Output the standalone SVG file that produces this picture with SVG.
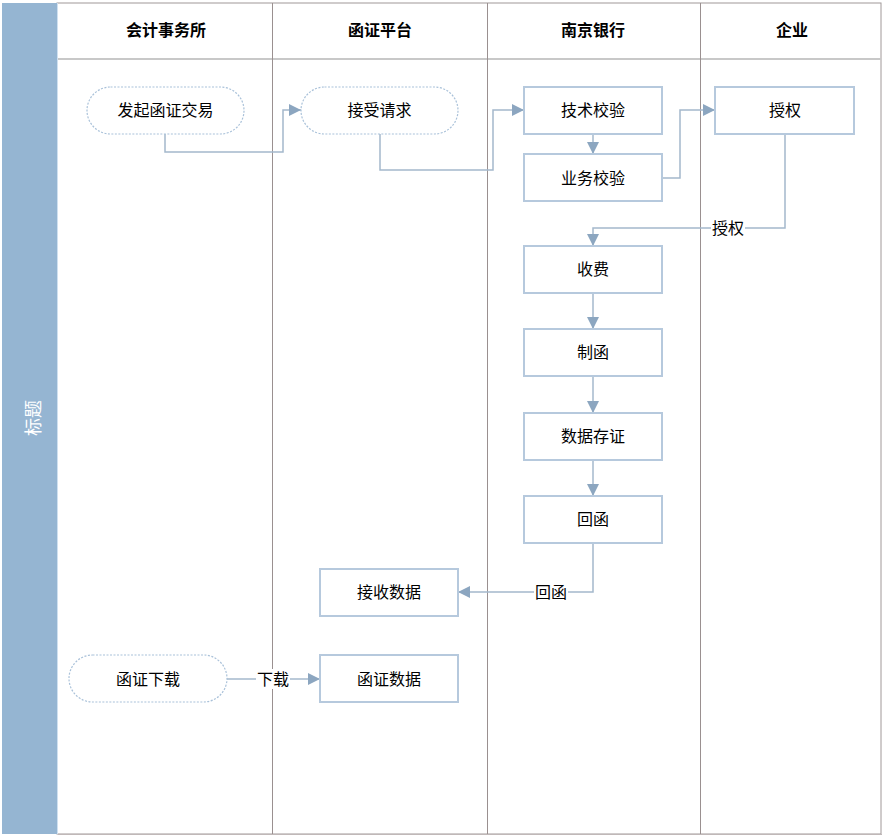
<svg xmlns="http://www.w3.org/2000/svg" width="884" height="837" viewBox="0 0 884 837">
<style>
.lane{stroke:#9a9090;stroke-width:1;fill:none}
.node rect.box{fill:#fff;stroke:#b6c9dd;stroke-width:2}
.node rect.term{fill:#fff;stroke:#a9c1d9;stroke-width:1.2;stroke-dasharray:2 1.5}
text{font-family:"Noto Sans CJK SC","Liberation Sans",sans-serif;font-size:16px;fill:#000;text-anchor:middle;dominant-baseline:central}
.hdr{font-weight:bold}
.conn path{fill:none;stroke:#a4b8cc;stroke-width:1.5}
.lbl{fill:#fff}
</style>
<defs>
<marker id="arr" viewBox="0 0 10 10" refX="10" refY="5" markerWidth="12" markerHeight="12" markerUnits="userSpaceOnUse" orient="auto">
<path d="M0,0 L10,5 L0,10 z" fill="#8ca6c0"/>
</marker>
</defs>
<rect x="0" y="0" width="884" height="837" fill="#fff"/>
<g id="pool">
<rect x="57" y="3" width="824" height="831" fill="#fff" stroke="#a09898" stroke-width="1"/>
<line x1="58" y1="834.5" x2="882" y2="834.5" stroke="#c0b8b8" stroke-width="1"/>
<rect x="2" y="3" width="55" height="831" fill="#95b5d2"/>
<line x1="57.5" y1="3" x2="57.5" y2="834" stroke="#cfe0f0" stroke-width="1"/>
<text x="32" y="418" transform="rotate(-90 32 418)" style="fill:#fff;font-size:18px">标题</text>
<line x1="58" y1="59" x2="881" y2="59" stroke="#c8c8c8" stroke-width="2"/>
<line class="lane" x1="272.5" y1="3" x2="272.5" y2="834"/>
<line class="lane" x1="487.5" y1="3" x2="487.5" y2="834"/>
<line class="lane" x1="700.5" y1="3" x2="700.5" y2="834"/>
<text class="hdr" x="166" y="29">会计事务所</text>
<text class="hdr" x="380" y="29">函证平台</text>
<text class="hdr" x="593" y="29">南京银行</text>
<text class="hdr" x="792" y="29">企业</text>
</g>
<g class="conn" id="connectors">
<path d="M165,134 V152 H283 V110 H301" marker-end="url(#arr)"/>
<path d="M380,134 V170 H493 V110 H524" marker-end="url(#arr)"/>
<path d="M593,134 V154" marker-end="url(#arr)"/>
<path d="M662,178 H680 V110 H715" marker-end="url(#arr)"/>
<path d="M785,134 V228 H593 V246" marker-end="url(#arr)"/>
<path d="M593,293 V329" marker-end="url(#arr)"/>
<path d="M593,376 V413" marker-end="url(#arr)"/>
<path d="M593,460 V496" marker-end="url(#arr)"/>
<path d="M593,543 V592 H458" marker-end="url(#arr)"/>
<path d="M227,679 H320" marker-end="url(#arr)"/>
<rect class="lbl" x="711" y="218" width="34" height="20"/>
<text x="728" y="227">授权</text>
<rect class="lbl" x="534" y="582" width="34" height="20"/>
<text x="551" y="591">回函</text>
<rect class="lbl" x="256" y="669" width="34" height="20"/>
<text x="273" y="678">下载</text>
</g>
<g class="node" id="n1"><rect class="term" x="87" y="87" width="157" height="47" rx="23.5"/><text x="165.5" y="109">发起函证交易</text></g>
<g class="node" id="n2"><rect class="term" x="301" y="87" width="157" height="47" rx="23.5"/><text x="379.5" y="109">接受请求</text></g>
<g class="node" id="n3"><rect class="box" x="524" y="87" width="138" height="47"/><text x="593" y="109">技术校验</text></g>
<g class="node" id="n4"><rect class="box" x="524" y="154" width="138" height="47"/><text x="593" y="177">业务校验</text></g>
<g class="node" id="n5"><rect class="box" x="715" y="87" width="139" height="47"/><text x="785" y="109">授权</text></g>
<g class="node" id="n6"><rect class="box" x="524" y="246" width="138" height="47"/><text x="593" y="268">收费</text></g>
<g class="node" id="n7"><rect class="box" x="524" y="329" width="138" height="47"/><text x="593" y="351">制函</text></g>
<g class="node" id="n8"><rect class="box" x="524" y="413" width="138" height="47"/><text x="593" y="435">数据存证</text></g>
<g class="node" id="n9"><rect class="box" x="524" y="496" width="138" height="47"/><text x="593" y="518">回函</text></g>
<g class="node" id="n10"><rect class="box" x="320" y="569" width="138" height="47"/><text x="389" y="591">接收数据</text></g>
<g class="node" id="n11"><rect class="term" x="69" y="655" width="158" height="47" rx="23.5"/><text x="148" y="678">函证下载</text></g>
<g class="node" id="n12"><rect class="box" x="320" y="655" width="138" height="47"/><text x="389" y="678">函证数据</text></g>
</svg>
